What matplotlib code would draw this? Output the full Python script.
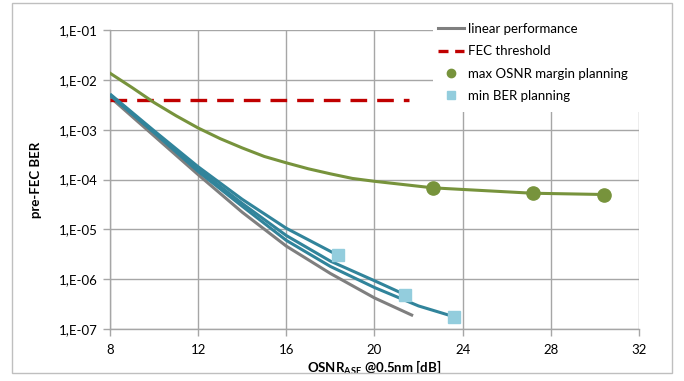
import numpy as np
import matplotlib.pyplot as plt
from matplotlib.patches import Rectangle
from matplotlib.ticker import FixedLocator, FuncFormatter

plt.rcParams['font.family'] = ['Lato', 'DejaVu Sans']
plt.rcParams['mathtext.fontset'] = 'custom'
plt.rcParams['mathtext.bf'] = 'Lato:bold'
plt.rcParams['mathtext.rm'] = 'Lato'

# values
linear_x = [8, 10, 12, 14, 16, 18, 20, 21.75]
linear_y = [4.5e-3, 7.5e-4, 1.25e-4, 2.2e-5, 4.6e-6, 1.3e-6, 4.2e-7, 1.85e-7]

fec_x = [8, 21.55]
fec_y = [3.9e-3, 3.9e-3]

margin_x = [8, 9, 10, 11, 12, 13, 14, 15, 16, 17, 18, 19, 20, 22.65, 27.18, 30.42]
margin_y = [1.36e-2, 7.0e-3, 3.5e-3, 1.9e-3, 1.08e-3, 6.6e-4, 4.3e-4, 2.9e-4,
            2.16e-4, 1.64e-4, 1.3e-4, 1.05e-4, 9.2e-5, 6.8e-5, 5.3e-5, 5.0e-5]
margin_pts_x = [22.65, 27.18, 30.42]
margin_pts_y = [6.8e-5, 5.3e-5, 5.0e-5]

ber_a_x = [8, 10, 12, 14, 16, 18.35]
ber_a_y = [5.2e-3, 9.5e-4, 1.8e-4, 4.0e-5, 1.05e-5, 3.0e-6]
ber_b_x = [8, 10, 12, 14, 16, 18, 20, 21.38]
ber_b_y = [5.0e-3, 9.0e-4, 1.6e-4, 3.3e-5, 7.5e-6, 2.3e-6, 9.3e-7, 4.9e-7]
ber_c_x = [8, 10, 12, 14, 16, 18, 20, 22, 23.6]
ber_c_y = [4.9e-3, 8.7e-4, 1.45e-4, 2.9e-5, 6.0e-6, 1.8e-6, 6.8e-7, 2.9e-7, 1.77e-7]
ber_pts_x = [18.35, 21.38, 23.6]
ber_pts_y = [3.0e-6, 4.9e-7, 1.77e-7]

x_ticks = [8, 12, 16, 20, 24, 28, 32]
y_exponents = [-7, -6, -5, -4, -3, -2, -1]

grey = '#7F7F7F'
red = '#C00000'
green = '#77933C'
teal = '#31849B'
light_blue = '#93CDDD'
grid_col = '#A6A6A6'

fig = plt.figure(figsize=(6.84, 3.81), dpi=100)
ax = fig.add_axes([110 / 684, 1 - 329 / 381, 529 / 684, 299 / 381])

ax.plot(linear_x, linear_y, color=grey, lw=2.2, solid_capstyle='butt', zorder=3)
for bx, by in [(ber_a_x, ber_a_y), (ber_b_x, ber_b_y), (ber_c_x, ber_c_y)]:
    ax.plot(bx, by, color=teal, lw=2.2, solid_capstyle='butt', zorder=4)
ax.plot(fec_x, fec_y, color=red, lw=2.4, dashes=(5, 3), zorder=3)
ax.plot(margin_x, margin_y, color=green, lw=2.2, zorder=3)
ax.plot(margin_pts_x, margin_pts_y, 'o', color=green, ms=9.5, zorder=5)
ax.plot(ber_pts_x, ber_pts_y, 's', color=light_blue, ms=8.5, zorder=5)

ax.set_yscale('log')
ax.set_xlim(8, 32)
ax.set_ylim(1e-7, 1e-1)
ax.xaxis.set_major_locator(FixedLocator(x_ticks))
ax.yaxis.set_major_locator(FixedLocator([10.0 ** e for e in y_exponents]))
ax.yaxis.set_minor_locator(FixedLocator([]))
ax.yaxis.set_major_formatter(FuncFormatter(lambda v, p: '1,E-%02d' % round(-np.log10(v))))
ax.grid(True, color=grid_col, lw=1.0, zorder=0)
ax.set_axisbelow(True)
for s in ['top', 'right']:
    ax.spines[s].set_visible(False)
for s in ['left', 'bottom']:
    ax.spines[s].set_color(grid_col)
    ax.spines[s].set_linewidth(1.0)
ax.tick_params(axis='both', length=5, width=1.0, color=grid_col, labelsize=9.5, labelcolor='black')
ax.tick_params(axis='y', pad=4)
ax.tick_params(axis='x', pad=6)

ax.set_ylabel('pre-FEC BER', fontsize=9.5, fontweight='bold', labelpad=12)
ax.set_xlabel(r'OSNR$_\mathbf{ASE}$ @0.5nm [dB]', fontsize=9.5, fontweight='bold', labelpad=2)

# white box behind the legend, as in the original chart
fig.add_artist(Rectangle((433 / 684, 1 - 112 / 381), 238 / 684, 107 / 381,
                         transform=fig.transFigure, facecolor='white', edgecolor='none', zorder=1))
# chart-area frame
fig.add_artist(Rectangle((12 / 684, 1 - 373 / 381), 660 / 684, 370 / 381,
                         transform=fig.transFigure, facecolor='none', edgecolor='#BFBFBF', lw=1.0, zorder=2))

handles = [
    plt.Line2D([], [], color=grey, lw=2.2),
    plt.Line2D([], [], color=red, lw=2.4, dashes=(3, 2)),
    plt.Line2D([], [], color=green, marker='o', ls='none', ms=6),
    plt.Line2D([], [], color=light_blue, marker='s', ls='none', ms=6),
]
labels = ['linear performance', 'FEC threshold', 'max OSNR margin planning', 'min BER planning']
leg = fig.legend(handles, labels, loc='upper left', bbox_to_anchor=(438 / 684, 1 - 23 / 381),
                 frameon=False, fontsize=9.5, handlelength=2.0, handletextpad=0.3,
                 labelspacing=0.78, borderaxespad=0, borderpad=0)
leg.set_zorder(3)

fig.savefig('out.png', dpi=100, facecolor='white')
